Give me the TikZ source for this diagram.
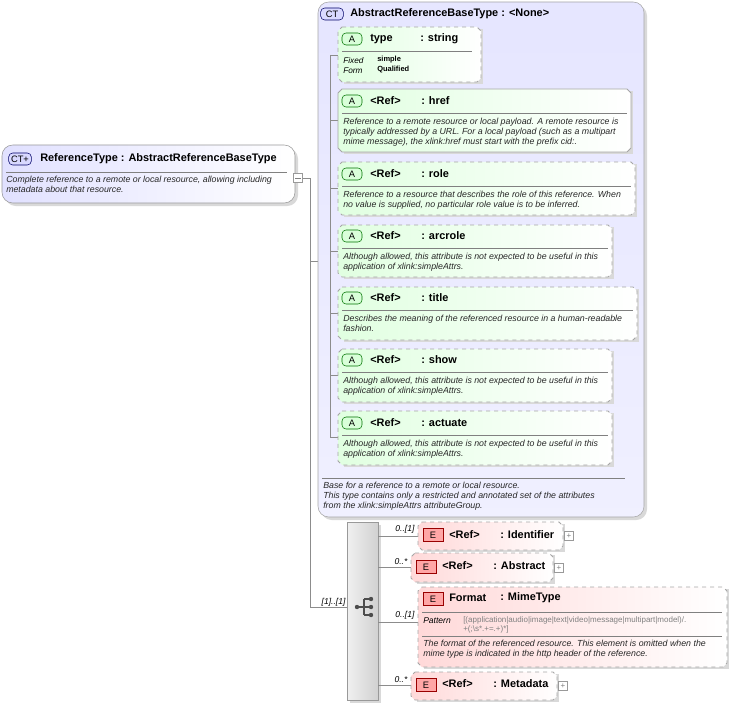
\documentclass[tikz,border=0pt]{standalone}
\usepackage{fontspec}
\setmainfont{Liberation Sans}
\begin{document}
\begin{tikzpicture}[x=0.75pt,y=-0.75pt,
  hdr/.style={font=\fontsize{8.2}{9}\selectfont\bfseries,anchor=west,inner sep=0},
  dsc/.style={font=\fontsize{6.6}{7.6}\selectfont\itshape,anchor=north west,inner sep=0,align=left,text=black!85},
  sm/.style={font=\fontsize{5.6}{6.6}\selectfont,anchor=west,inner sep=0},
  lbl/.style={font=\fontsize{6.4}{7}\selectfont\itshape,anchor=south east,inner sep=1pt},
  conn/.style={draw=black!45,line width=0.6pt},
  sep/.style={draw=black!50,line width=0.5pt},
  abadge/.style={draw=green!45!black,fill=green!15,rounded corners=3pt,minimum width=15pt,minimum height=9pt,inner sep=0,font=\fontsize{7}{8}\selectfont},
  ebadge/.style={draw=red!60!black,fill=red!35,minimum width=15pt,minimum height=10pt,inner sep=0,font=\fontsize{7}{8}\selectfont},
  cbadge/.style={draw=blue!40!black,fill=blue!15,rounded corners=3pt,minimum width=17pt,minimum height=9pt,inner sep=0,font=\fontsize{7}{8}\selectfont},
  plus/.style={draw=black!40,fill=white,minimum size=7pt,inner sep=0,font=\fontsize{6}{6}\selectfont,text=black!50},
  gbox/.style={draw=black!35,left color=green!12,right color=white,line width=0.6pt},
  pbox/.style={draw=black!35,left color=red!15,right color=white,line width=0.6pt,dashed},
]
\useasboundingbox (0,0) rectangle (731,706);
\newcommand\chbox[5]{%
 \fill[black!15] (#1+6,#2+2)--(#3+2,#2+2)--(#3+2,#4+2)--(#1+6,#4+2)--cycle;
 \path[#5] (#1+4,#2)--(#3-4,#2)--(#3,#2+4)--(#3,#4-4)--(#3-4,#4)--(#1+4,#4)--(#1,#4-4)--(#1,#2+4)--cycle;}

% ReferenceType
\fill[black!15,rounded corners=8pt] (5,148) rectangle (298,206);
\draw[black!40,left color=blue!12,right color=white,rounded corners=8pt] (2,145) rectangle (295,203);
\draw[sep] (6,172) -- (287,172);
\node[cbadge] (ctb) at (20,159) {CT+};
\node[hdr] (rt) at (40,159) {ReferenceType : AbstractReferenceBaseType};
\node[dsc] (rtd) at (6,176) {Complete reference to a remote or local resource, allowing including\\metadata about that resource.};
\node[draw=black!40,fill=white,minimum size=7pt,inner sep=0] (minus) at (298,178) {};
\draw[black!50,line width=0.5pt] ([xshift=-2pt]minus.center)--([xshift=2pt]minus.center);
\coordinate (trunk) at (310,178);
\draw[conn] (minus.east) -- (trunk) -- (310,607) -- (347,607);
\draw[conn] (310,261) -- (318,261);
\node[lbl] at (347,608) {[1]..[1]};

% CT box
\fill[black!15,rounded corners=8pt] (321,5) rectangle (647,520);
\draw[black!35,top color=blue!10,bottom color=blue!6,rounded corners=8pt] (318,2) rectangle (644,517);
\node[cbadge] (ct2) at (332,14) {CT};
\node[hdr] at (350,14) {AbstractReferenceBaseType : <None>};
\draw[conn] (330,55) -- (330,437);
\foreach \y in {55,120,188,251,313,375,437} \draw[conn] (330,\y) -- (338,\y);

% attribute boxes
\chbox{338}{27}{481}{82}{gbox,dashed}
\chbox{338}{89}{631}{152}{gbox}
\chbox{338}{162}{635}{215}{gbox,dashed}
\chbox{338}{225}{612}{277}{gbox,dashed}
\chbox{338}{287}{637}{340}{gbox,dashed}
\chbox{338}{349}{612}{402}{gbox,dashed}
\chbox{338}{411}{612}{465}{gbox,dashed}

\node[abadge] at (352,39) {A};
\node[hdr] at (370,39) {type};
\node[hdr] at (420,39) {: string};
\draw[sep] (342,51) -- (472,51);
\node[sm,font=\fontsize{6.2}{7}\selectfont\itshape] at (343,61) {Fixed};
\node[sm,font=\fontsize{6.2}{7}\selectfont\itshape] at (343,71) {Form};
\node[sm,font=\fontsize{5.6}{7}\selectfont\bfseries] at (377,60) {simple};
\node[sm,font=\fontsize{5.6}{7}\selectfont\bfseries] at (377,70) {Qualified};

\newcommand\attr[4]{% y, name, sepx2, desc
 \node[abadge] at (352,#1) {A};
 \node[hdr] at (370,#1) {<Ref>};
 \node[hdr] at (421,#1) {: #2};
 \draw[sep] (342,#1+12) -- (#3,#1+12);
 \node[dsc] at (343,#1+17) {#4};}
\attr{101}{href}{627}{Reference to a remote resource or local payload. A remote resource is\\typically addressed by a URL. For a local payload (such as a multipart\\mime message), the xlink:href must start with the prefix cid:.}
\attr{174}{role}{631}{Reference to a resource that describes the role of this reference. When\\no value is supplied, no particular role value is to be inferred.}
\attr{236}{arcrole}{608}{Although allowed, this attribute is not expected to be useful in this\\application of xlink:simpleAttrs.}
\attr{298}{title}{633}{Describes the meaning of the referenced resource in a human-readable\\fashion.}
\attr{360}{show}{608}{Although allowed, this attribute is not expected to be useful in this\\application of xlink:simpleAttrs.}
\attr{423}{actuate}{608}{Although allowed, this attribute is not expected to be useful in this\\application of xlink:simpleAttrs.}

\draw[sep] (322,478) -- (625,478);
\node[dsc] at (323,482) {Base for a reference to a remote or local resource.\\This type contains only a restricted and annotated set of the attributes\\from the xlink:simpleAttrs attributeGroup.};

% sequence
\fill[black!15] (350,525) rectangle (381,703);
\draw[black!40,left color=black!6,right color=black!18] (347,522) rectangle (378,700);
\fill[black!70] (357,607) circle (2.2);
\draw[black!70,line width=0.9pt] (357,607)--(364,607) (364,599)--(364,615) (364,599)--(371,599) (364,607)--(371,607) (364,615)--(371,615);
\foreach \yy in {599,607,615} \fill[black!70] (371,\yy) circle (2.2);

\foreach \y/\x/\l in {536/418/0..[1],567/411/0..*,622/418/0..[1],685/411/0..*}{
 \draw[conn] (378,\y) -- (\x,\y);
 \node[lbl] at (\x-2,\y-1) {\l};}

% elements
\chbox{418}{522}{563}{550}{pbox}
\node[ebadge] at (433,535) {E};
\node[hdr] at (449,535) {<Ref>};
\node[hdr] at (500,535) {: Identifier};
\node[plus] at (569,536) {+};

\chbox{411}{553}{553}{582}{pbox}
\node[ebadge] at (426,567) {E};
\node[hdr] at (442,566) {<Ref>};
\node[hdr] at (493,566) {: Abstract};
\node[plus] at (559,568) {+};

\chbox{418}{587}{727}{667}{pbox}
\node[ebadge] at (433,599) {E};
\node[hdr] at (449,598) {Format};
\node[hdr] at (500,598) {: MimeType};
\draw[sep] (422,612) -- (722,612);
\node[sm,font=\fontsize{6.4}{7}\selectfont\itshape] at (423,621) {Pattern};
\node[dsc,font=\fontsize{6}{7}\selectfont,text=black!50] at (463,616) {[(application|audio|image|text|video|message|multipart|model)/.\\+(;\textbackslash s*.+=.+)*]};
\draw[sep] (422,636) -- (722,636);
\node[dsc] at (423,640) {The format of the referenced resource. This element is omitted when the\\mime type is indicated in the http header of the reference.};

\chbox{411}{672}{557}{700}{pbox}
\node[ebadge] at (426,685) {E};
\node[hdr] at (442,684) {<Ref>};
\node[hdr] at (493,684) {: Metadata};
\node[plus] at (563,686) {+};
\end{tikzpicture}
\end{document}
